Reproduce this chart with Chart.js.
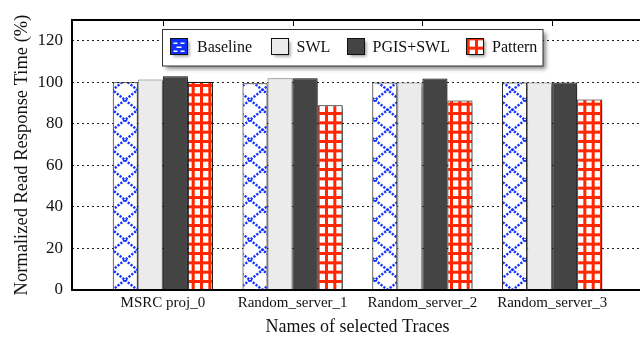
<!DOCTYPE html>
<html lang="en">
<head>
<meta charset="UTF-8">
<title>Normalized Read Response Time</title>
<script src="https://cdn.jsdelivr.net/npm/chart.js"></script>
<style>
  html, body { margin: 0; padding: 0; background: #fff; overflow: hidden; }
  #wrap { width: 660px; height: 341px; }
</style>
</head>
<body>
<div id="wrap"><canvas id="traceChart" width="660" height="341"></canvas></div>
<script>
// data
const traces = ['MSRC proj_0', 'Random_server_1', 'Random_server_2', 'Random_server_3'];
const seriesNames = ['Baseline', 'SWL', 'PGIS+SWL', 'Pattern'];
const baseline = [100.0, 99.5, 99.9, 99.9];
const swl = [101.4, 101.9, 99.9, 99.9];
const pgisSwl = [102.9, 101.9, 101.8, 99.9];
const pattern = [100.2, 89.0, 91.3, 91.7];
const yTicks = [0, 20, 40, 60, 80, 100, 120];

const FONT = "'Liberation Serif', 'DejaVu Serif', serif";

// hatch fills
function makeBluePattern() {
    const c = document.createElement('canvas');
    c.width = 25; c.height = 20;
    const g = c.getContext('2d');
    g.fillStyle = '#fff';
    g.fillRect(0, 0, 25, 20);
    g.strokeStyle = '#1432ff';
    g.lineWidth = 2.5;
    g.setLineDash([2.2, 1.4]);
    g.beginPath();
    g.moveTo(0, 0); g.lineTo(25, 20);
    g.moveTo(25, 0); g.lineTo(0, 20);
    g.stroke();
    return g.createPattern(c, 'repeat');
}

function makeRedPattern() {
    const c = document.createElement('canvas');
    c.width = 25; c.height = 28;
    const g = c.getContext('2d');
    g.fillStyle = '#fff';
    g.fillRect(0, 0, 25, 28);
    g.fillStyle = '#ff2600';
    for (let i = 0; i < 3; i++) {
        g.fillRect(i * 25 / 3, 0, 3, 28);
        g.fillRect(0, i * 28 / 3, 25, 3);
    }
    return g.createPattern(c, 'repeat');
}

const blueFill = makeBluePattern();
const redFill = makeRedPattern();

function toPoints(arr) {
    return arr.map((v, i) => ({ x: i, y: v }));
}

// drop shadow under the bars
const barShadow = {
    id: 'barShadow',
    beforeDatasetsDraw(chart) {
        const ctx = chart.ctx;
        ctx.save();
        ctx.shadowColor = 'rgba(0,0,0,0.45)';
        ctx.shadowBlur = 4;
        ctx.shadowOffsetX = 3;
        ctx.shadowOffsetY = 3;
    },
    afterDatasetsDraw(chart) {
        chart.ctx.restore();
    }
};

// frame, top ticks and the boxed legend
const frameAndLegend = {
    id: 'frameAndLegend',
    afterDraw(chart) {
        const ctx = chart.ctx;
        const a = chart.chartArea;
        const xs = chart.scales.x;

        ctx.save();
        ctx.strokeStyle = '#000';
        ctx.lineWidth = 2;
        ctx.beginPath();
        ctx.moveTo(a.right, a.top);
        ctx.lineTo(a.left, a.top);
        ctx.lineTo(a.left, a.bottom);
        ctx.lineTo(a.right, a.bottom);
        ctx.stroke();

        ctx.lineWidth = 1;
        ctx.beginPath();
        traces.forEach((t, i) => {
            const px = Math.round(xs.getPixelForValue(i)) + 0.5;
            ctx.moveTo(px, a.top);
            ctx.lineTo(px, a.top + 6);
        });
        ctx.stroke();

        // legend box
        const bx = 162.5, by = 29.5, bw = 380.5, bh = 36.5;
        ctx.save();
        ctx.shadowColor = 'rgba(0,0,0,0.45)';
        ctx.shadowBlur = 4;
        ctx.shadowOffsetX = 3;
        ctx.shadowOffsetY = 3;
        ctx.fillStyle = '#fff';
        ctx.fillRect(bx, by, bw, bh);
        ctx.restore();
        ctx.strokeStyle = '#333';
        ctx.lineWidth = 1;
        ctx.strokeRect(bx, by, bw, bh);

        const swatchX = [170.5, 271.5, 347.5, 466.5];
        const textX = [197, 296.5, 372.5, 492];
        ctx.font = '16px ' + FONT;
        ctx.textBaseline = 'middle';
        ctx.textAlign = 'left';
        chart.data.datasets.forEach((ds, i) => {
            const sx = swatchX[i], sy = 38.5, sw = 17, sh = 16;
            ctx.save();
            ctx.shadowColor = 'rgba(0,0,0,0.4)';
            ctx.shadowBlur = 3;
            ctx.shadowOffsetX = 2;
            ctx.shadowOffsetY = 2;
            if (i === 0) {
                ctx.fillStyle = '#1030ff';
            } else {
                ctx.fillStyle = ds.backgroundColor;
            }
            ctx.fillRect(sx, sy, sw, sh);
            ctx.restore();
            if (i === 0) {
                ctx.fillStyle = '#fff';
                ctx.fillRect(sx + 3, sy + 4, 4, 1.5);
                ctx.fillRect(sx + 10, sy + 4, 4, 1.5);
                ctx.fillRect(sx + 6, sy + 8, 5, 1.5);
                ctx.fillRect(sx + 3, sy + 12, 4, 1.5);
                ctx.fillRect(sx + 10, sy + 12, 4, 1.5);
            }
            ctx.strokeStyle = '#111';
            ctx.lineWidth = 1;
            ctx.strokeRect(sx, sy, sw, sh);
            ctx.fillStyle = '#111';
            ctx.fillText(ds.label, textX[i], 47.5);
        });
        ctx.restore();
    }
};

const ctx = document.getElementById('traceChart').getContext('2d');

new Chart(ctx, {
    type: 'bar',
    data: {
        datasets: [
            {
                label: seriesNames[0],
                data: toPoints(baseline),
                backgroundColor: blueFill,
                borderColor: '#111',
                borderWidth: 1
            },
            {
                label: seriesNames[1],
                data: toPoints(swl),
                backgroundColor: '#ebebeb',
                borderColor: '#777',
                borderWidth: 1
            },
            {
                label: seriesNames[2],
                data: toPoints(pgisSwl),
                backgroundColor: '#444444',
                borderColor: '#111',
                borderWidth: 1
            },
            {
                label: seriesNames[3],
                data: toPoints(pattern),
                backgroundColor: redFill,
                borderColor: '#111',
                borderWidth: 1
            }
        ]
    },
    options: {
        responsive: false,
        animation: false,
        datasets: {
            bar: {
                categoryPercentage: 0.772,
                barPercentage: 1.0
            }
        },
        layout: {
            padding: { left: 0, right: 17, top: 20, bottom: 0 }
        },
        scales: {
            x: {
                type: 'linear',
                min: -0.7,
                max: 3.7,
                offset: false,
                grid: { display: false, drawTicks: false, tickLength: 0 },
                border: { display: false },
                afterBuildTicks: (scale) => {
                    scale.ticks = traces.map((t, i) => ({ value: i }));
                },
                afterFit: (scale) => { scale.height = 51; },
                ticks: {
                    autoSkip: false,
                    maxRotation: 0,
                    padding: 4,
                    color: '#111',
                    font: { family: FONT, size: 15 },
                    callback: (v) => traces[v] !== undefined ? traces[v] : ''
                },
                title: {
                    display: true,
                    text: 'Names of selected Traces',
                    color: '#111',
                    font: { family: FONT, size: 18 },
                    padding: { top: 4, bottom: 3 }
                }
            },
            y: {
                min: 0,
                max: 130,
                grid: {
                    color: '#222',
                    lineWidth: 1,
                    drawTicks: false
                },
                border: { display: false, dash: [2, 3] },
                afterBuildTicks: (scale) => {
                    scale.ticks = yTicks.map(v => ({ value: v }));
                },
                afterFit: (scale) => { scale.width = 72; },
                ticks: {
                    padding: 9,
                    color: '#111',
                    font: { family: FONT, size: 17 }
                },
                title: {
                    display: true,
                    text: 'Normalized Read Response Time (%)',
                    color: '#111',
                    font: { family: FONT, size: 18.5 },
                    padding: { top: 11, bottom: 4 }
                }
            }
        },
        plugins: {
            legend: { display: false },
            tooltip: { enabled: false }
        }
    },
    plugins: [barShadow, frameAndLegend]
});
</script>
</body>
</html>
